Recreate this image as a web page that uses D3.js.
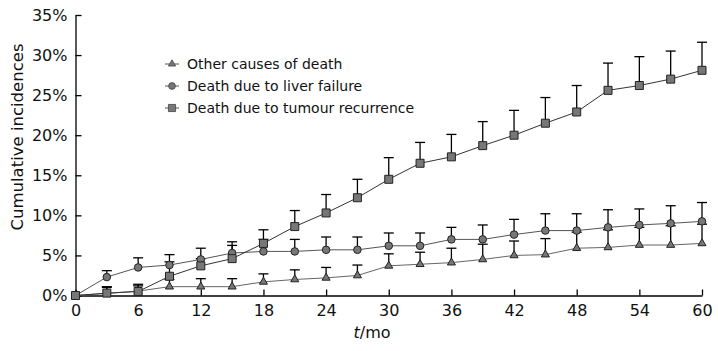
<!DOCTYPE html>
<html><head><meta charset="utf-8">
<script src="https://cdn.jsdelivr.net/npm/d3@7"></script>
<style>
body{margin:0;background:#fff;}
svg text{font-family:Tahoma,"DejaVu Sans",Verdana,sans-serif;fill:#111;}
</style></head><body>
<svg id="chart" width="718" height="351"></svg>
<script>
const months = [0,3,6,9,12,15,18,21,24,27,30,33,36,39,42,45,48,51,54,57,60];
const other = [0,0.25,0.55,1.1,1.1,1.1,1.7,2.0,2.2,2.5,3.7,3.9,4.1,4.5,5.0,5.1,5.9,6.0,6.3,6.3,6.5];
const otherUpper = [0,1.0,1.2,2.0,2.1,2.1,2.7,3.2,3.5,3.8,5.2,5.4,5.9,6.4,6.8,7.1,7.9,8.2,8.5,8.7,8.9];
const liver = [0,2.3,3.5,3.8,4.5,5.3,5.5,5.5,5.7,5.7,6.2,6.2,7.0,7.0,7.6,8.1,8.1,8.5,8.8,9.0,9.25];
const liverUpper = [0,3.1,4.7,5.1,5.9,6.7,7.0,7.0,7.3,7.3,7.8,7.8,8.5,8.8,9.5,10.2,10.2,10.7,10.8,11.2,11.6];
const tumour = [0,0.3,0.5,2.4,3.7,4.6,6.5,8.6,10.3,12.2,14.5,16.5,17.3,18.7,20.0,21.5,22.9,25.6,26.2,27.0,28.1];
const tumourUpper = [0,1.1,1.4,4.2,4.6,6.25,8.2,10.6,12.6,14.5,17.2,19.1,20.1,21.7,23.1,24.7,26.2,29.0,29.8,30.5,31.6];
const seriesNames = ["Other causes of death","Death due to liver failure","Death due to tumour recurrence"];
const yTicks = [0,5,10,15,20,25,30,35];
const xTicks = [0,6,12,18,24,30,36,42,48,54,60];

const svg = d3.select("#chart");
const x = d3.scaleLinear().domain([0,60]).range([75.5,702]);
const y = d3.scaleLinear().domain([0,35]).range([295.5,15]);

// axes
const xAxis = svg.append("g").attr("transform","translate(0,295.5)")
  .call(d3.axisBottom(x).tickValues(xTicks).tickSize(-6).tickPadding(9).tickSizeOuter(0));
xAxis.selectAll("text").attr("font-size",16).attr("dy","0.71em");
const yAxis = svg.append("g").attr("transform","translate(75.5,0)")
  .call(d3.axisLeft(y).tickValues(yTicks).tickSize(-6).tickPadding(8).tickSizeOuter(0).tickFormat(d=>d+"%"));
yAxis.selectAll("text").attr("font-size",16);
svg.selectAll(".domain, .tick line").attr("stroke","#000").attr("stroke-width",1.3);

svg.append("text").attr("transform","translate(23,137) rotate(-90)").attr("text-anchor","middle")
  .attr("font-size",16.5).text("Cumulative incidences");
const xt = svg.append("text").attr("x",372).attr("y",338).attr("text-anchor","middle").attr("font-size",16);
xt.append("tspan").attr("font-style","italic").text("t");
xt.append("tspan").text("/mo");

const data = [
  {name:seriesNames[0], v:other, up:otherUpper, sym:d3.symbolTriangle, size:28, line:"#666"},
  {name:seriesNames[1], v:liver, up:liverUpper, sym:d3.symbolCircle, size:45, line:"#555"},
  {name:seriesNames[2], v:tumour, up:tumourUpper, sym:d3.symbolSquare, size:64, line:"#333"}
];
const line = d3.line().x((d,i)=>x(months[i])).y(d=>y(d));

data.forEach(s=>{
  const g = svg.append("g");
  s.up.forEach((u,i)=>{
    if(i===0) return;
    g.append("line").attr("x1",x(months[i])).attr("x2",x(months[i])).attr("y1",y(s.v[i])).attr("y2",y(u))
      .attr("stroke","#000").attr("stroke-width",1.3);
    g.append("line").attr("x1",x(months[i])-5).attr("x2",x(months[i])+5).attr("y1",y(u)).attr("y2",y(u))
      .attr("stroke","#000").attr("stroke-width",1.3);
  });
});
data.forEach(s=>{
  svg.append("path").attr("d",line(s.v)).attr("fill","none").attr("stroke",s.line).attr("stroke-width",1);
});
data.forEach(s=>{
  svg.append("g").selectAll("path").data(s.v).join("path")
    .attr("transform",(d,i)=>`translate(${x(months[i])},${y(d)})`)
    .attr("d",d3.symbol().type(s.sym).size(s.size))
    .attr("fill","#777").attr("stroke","#222").attr("stroke-width",1);
});

// legend
const legY = [64,86,108];
data.forEach((s,i)=>{
  const g = svg.append("g").attr("transform",`translate(172,${legY[i]})`);
  g.append("line").attr("x1",-7).attr("x2",7).attr("stroke","#555").attr("stroke-width",1);
  g.append("path").attr("d",d3.symbol().type(s.sym).size(s.size*0.8)).attr("fill","#777").attr("stroke","#444").attr("stroke-width",0.8);
  g.append("text").attr("x",15).attr("dy","0.35em").attr("font-size",14).text(s.name);
});
</script></body></html>
